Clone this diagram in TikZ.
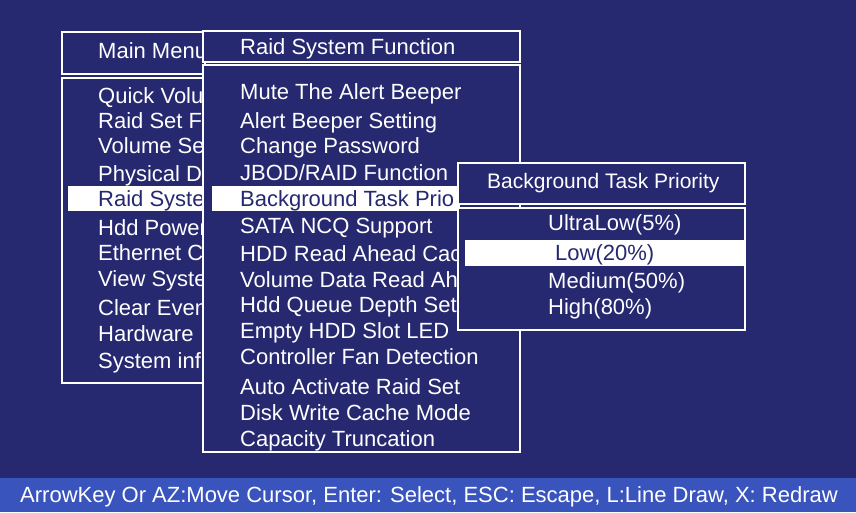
\documentclass[tikz,border=0pt]{standalone}
\usepackage{fontspec}
\setmainfont{Liberation Sans}
\definecolor{scrbg}{RGB}{38,40,112}
\definecolor{barbg}{RGB}{58,84,190}
\tikzset{
  menubox/.style={draw=white, line width=2pt, fill=scrbg},
  item/.style={anchor=base west, text=white, inner sep=0pt, font=\fontsize{22}{22}\selectfont},
  sel/.style={item, text=scrbg},
}
\begin{document}
\begin{tikzpicture}[x=1pt,y=-1pt]
\fill[scrbg] (0,0) rectangle (856,512);
\useasboundingbox (0,0) rectangle (856,512);
% main menu
\draw[menubox] (62,32) rectangle (205,74);
\draw[menubox] (62,78) rectangle (205,383);
\node[item] (mm) at (98,58) {Main Menu};
\fill[white] (68,186) rectangle (205,211);
\foreach \y/\t in {103/Quick Volu, 128/Raid Set F, 153/Volume Se, 181/Physical D,
  235/Hdd Power, 260/Ethernet C, 286/View Syste, 315/Clear Even, 341/Hardware, 368/System inf}
  \node[item] at (98,\y) {\t};
\node[sel] (mmsel) at (98,206) {Raid Syste};
% raid system function
\draw[menubox] (203,31) rectangle (520,62);
\draw[menubox] (203,65) rectangle (520,452);
\node[item] (rsf) at (240,54) {Raid System Function};
\fill[white] (212,186) rectangle (460,211);
\foreach \y/\t in {99/Mute The Alert Beeper, 128/Alert Beeper Setting, 153/Change Password,
  180/{JBOD/RAID Function}, 233/SATA NCQ Support, 261/HDD Read Ahead Cac,
  287/Volume Data Read Ah, 312/Hdd Queue Depth Set, 338/Empty HDD Slot LED,
  364/Controller Fan Detection, 394/Auto Activate Raid Set, 420/Disk Write Cache Mode,
  446/Capacity Truncation}
  \node[item] at (240,\y) {\t};
\node[sel] (rsfsel) at (240,206) {Background Task Prio};
% background task priority
\draw[menubox] (458,163) rectangle (745,204);
\draw[menubox] (458,208) rectangle (745,330);
\node[item, font=\fontsize{21}{21}\selectfont] (btp) at (487,188) {Background Task Priority};
\fill[white] (465,240) rectangle (745,266);
\node[item] at (548,230) {UltraLow(5\%)};
\node[sel] (btpsel) at (555,260) {Low(20\%)};
\node[item] at (548,288) {Medium(50\%)};
\node[item] at (548,314) {High(80\%)};
% status bar
\fill[barbg] (0,478) rectangle (856,512);
\node[item, font=\fontsize{22}{22}\selectfont] (help) at (20,502)
  {ArrowKey Or AZ:Move Cursor, Enter: Select, ESC: Escape, L:Line Draw, X: Redraw};
\end{tikzpicture}
\end{document}
